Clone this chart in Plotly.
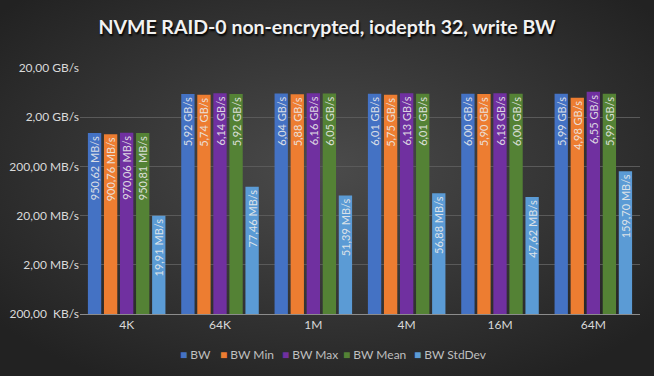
import base64
import plotly.graph_objects as go

categories = ["4K", "64K", "1M", "4M", "16M", "64M"]
series_names = ["BW", "BW Min", "BW Max", "BW Mean", "BW StdDev"]
# values in MB/s
bw = [950.62, 5920, 6040, 6010, 6000, 5990]
bw_min = [900.76, 5740, 5880, 5750, 5900, 4980]
bw_max = [970.06, 6140, 6160, 6130, 6130, 6550]
bw_mean = [950.81, 5920, 6050, 6010, 6000, 5990]
bw_std = [19.91, 77.46, 51.39, 56.88, 47.62, 159.70]
tick_vals = [0.2, 2, 20, 200, 2000, 20000]
tick_text = ["200,00  KB/s", "2,00 MB/s", "20,00 MB/s", "200,00 MB/s", "2,00 GB/s", "20,00 GB/s"]

colors = ["#4472C4", "#ED7D31", "#7030A0", "#548235", "#5B9BD5"]
series = [bw, bw_min, bw_max, bw_mean, bw_std]


def fmt(v):
    if v >= 1000:
        return f"{v/1000:.2f}".replace(".", ",") + " GB/s"
    return f"{v:.2f}".replace(".", ",") + " MB/s"


FONT = "Lato"
W, H = 654, 376
L, R, T, B = 80, 14, 68, 62
pw, ph = W - L - R, H - T - B

fig = go.Figure()
for name, vals, col in zip(series_names, series, colors):
    fig.add_trace(go.Bar(
        name=name, x=categories, y=vals, marker=dict(color=col, line=dict(width=0)),
        text=[fmt(v) for v in vals], textposition="inside", insidetextanchor="end",
        textangle=-90, textfont=dict(family=FONT, size=11, color="rgba(235,235,235,0.9)"),
        hoverinfo="skip", showlegend=False,
    ))

# manual legend (small square markers like the reference)
legend_x = [178, 218, 280, 341, 412]
annotations = []
for name, col, lx in zip(series_names, colors, legend_x):
    annotations.append(dict(
        text=f"<span style='color:{col}'>■</span> {name}", xref="paper", yref="paper",
        x=(lx - L) / pw, y=-(354 - (T + ph)) / ph, xanchor="left", yanchor="middle",
        showarrow=False, font=dict(family=FONT, size=12, color="#bfbfbf")))

svg = f'''<svg xmlns="http://www.w3.org/2000/svg" width="{W}" height="{H}" preserveAspectRatio="none">
<defs><radialGradient id="g" cx="50%" cy="45%" r="65%">
<stop offset="0" stop-color="#4b4b4b"/><stop offset="1" stop-color="#222222"/>
</radialGradient></defs><rect width="100%" height="100%" fill="url(#g)"/></svg>'''
src = "data:image/svg+xml;base64," + base64.b64encode(svg.encode()).decode()

fig.update_layout(
    width=W, height=H,
    margin=dict(l=L, r=R, t=T, b=B, autoexpand=False),
    paper_bgcolor="#333333", plot_bgcolor="rgba(0,0,0,0)",
    images=[dict(source=src, xref="paper", yref="paper", x=-L / pw, y=1 + T / ph,
                 sizex=W / pw, sizey=H / ph, sizing="stretch", layer="below",
                 xanchor="left", yanchor="top")],
    title=dict(text="<b>NVME RAID-0 non-encrypted, iodepth 32, write BW</b>", x=0.5, xanchor="center",
               y=1 - 27 / H, yanchor="middle",
               font=dict(family=FONT, size=19.5, color="#f2f2f2", shadow="1px 2px 2px #000000")),
    barmode="group", bargap=0.14, bargroupgap=0.17,
    uniformtext=dict(minsize=11, mode="show"),
    showlegend=False,
    annotations=annotations,
    font=dict(family=FONT, color="#d9d9d9"),
)
fig.update_xaxes(showgrid=False, showline=True, linecolor="#8c8c8c", linewidth=1, ticks="",
                 tickfont=dict(family=FONT, size=12, color="#d9d9d9"), automargin=False)
fig.update_yaxes(type="log", range=[-0.69897, 4.30103], tickvals=tick_vals, ticktext=tick_text,
                 showgrid=True, gridcolor="#5a5a5a", gridwidth=1, zeroline=False, showline=False,
                 tickfont=dict(family=FONT, size=12, color="#d9d9d9"), ticks="", ticklen=0,
                 automargin=False)
fig.write_html("out.html", config={"displayModeBar": False},
               post_script="document.body.style.margin='0';")
